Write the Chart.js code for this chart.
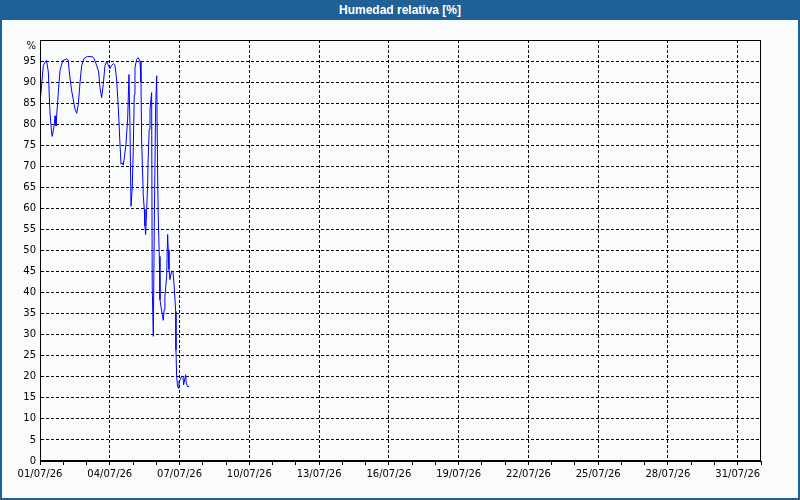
<!DOCTYPE html>
<html>
<head>
<meta charset="utf-8">
<title>Humedad relativa</title>
<script src="https://cdn.jsdelivr.net/npm/chart.js@4.4.0/dist/chart.umd.min.js"></script>
<style>
  body { margin: 0; background: #fff; }
  #marco { position: relative; width: 800px; height: 500px; background: #fafcfb; overflow: hidden; }
  #grafico { position: absolute; left: 0; top: 0; }
  #titulo {
    position: absolute; left: 0; top: 0; width: 800px; height: 20px;
    background: #1f6096; color: #fff; text-align: center;
    font: bold 12px "Liberation Sans", sans-serif; line-height: 20px;
  }
  #borde {
    position: absolute; left: 0; top: 0; width: 800px; height: 500px;
    box-sizing: border-box; border: 2px solid #1f6096; border-top: none;
    pointer-events: none;
  }
</style>
</head>
<body>
<div id="marco">
  <canvas id="grafico" width="800" height="500"></canvas>
  <div id="titulo">Humedad relativa [%]</div>
  <div id="borde"></div>
</div>
<script>
// Horas desde el 01/07/26 00:00
const horas = [
  0.7, 3.4, 6.2, 6.9, 8.6, 10.3, 12.1, 12.7, 14.8, 15.5, 16.5, 17.2, 18.9, 20.6,
  23.4, 27.5, 29.2, 30.2, 32.7, 36.1, 37.9, 39.5, 41.3, 43.0, 45.4, 48.8, 54.4,
  56.0, 58.5, 60.5, 61.9, 63.6, 65.3, 67.0, 68.8, 70.5, 72.2, 74.0, 75.6, 77.4,
  79.1, 80.8, 82.5, 83.6, 84.9, 85.9, 87.0, 88.7, 90.5, 91.8, 92.8, 93.9, 95.2,
  96.2, 97.3, 98.0, 99.7, 101.4, 103.2, 104.2, 104.9, 106.6, 107.6, 108.3, 109.0,
  110.1, 111.1, 111.7, 112.7, 113.5, 114.5, 115.2, 115.8, 116.9, 118.1, 119.3,
  120.4, 121.4, 122.0, 123.1, 123.8, 124.8, 126.2, 127.2, 128.2, 128.9, 130.7,
  131.7, 132.3, 133.1, 134.1, 135.8, 137.2, 138.5, 140.0, 140.3, 141.0, 142.0,
  142.7, 143.4, 144.7, 146.2, 147.5, 148.2, 150.3, 150.9, 152.3, 154.0
];

// Humedad relativa (%)
const humedad = [
  86.7, 93.9, 95.1, 95.0, 92.4, 82.9, 77.6, 77.1, 80.0, 82.0, 79.6, 82.0, 87.5, 92.7,
  95.1, 95.5, 95.2, 92.4, 87.9, 83.6, 82.6, 84.7, 89.9, 93.9, 95.6, 96.1, 96.0,
  95.5, 93.9, 92.4, 88.7, 86.3, 89.5, 93.9, 94.9, 94.0, 93.2, 94.0, 94.4, 94.0,
  90.5, 84.0, 75.5, 70.5, 70.8, 70.3, 72.0, 75.2, 81.5, 91.8, 80.0, 60.5, 65.0,
  73.6, 87.0, 93.4, 95.4, 95.8, 95.0, 90.0, 76.0, 63.0, 59.8, 55.8, 53.8,
  59.8, 66.1, 72.5, 78.8, 83.6, 86.0, 87.5, 41.5, 29.6, 60.0, 83.6,
  91.5, 67.7, 58.2, 48.6, 38.3, 36.7, 34.8, 33.4, 36.0, 39.1, 43.9,
  53.8, 50.2, 45.5, 43.1, 45.1, 45.0, 41.5, 35.5, 26.4, 20.1, 17.7,
  17.3, 18.9, 19.3, 20.1, 20.1, 18.1, 20.5, 18.5, 17.7, 17.7
];

// Marcas del eje X: una por día, etiqueta cada 3 días
const etiquetasX = ['01/07/26', '04/07/26', '07/07/26', '10/07/26', '13/07/26', '16/07/26',
  '19/07/26', '22/07/26', '25/07/26', '28/07/26', '31/07/26'];
const totalDias = 31;

// Eje Y: 0..100 de 5 en 5, arriba se pone "%"
const maxY = 100;
const pasoY = 5;

const fuente = { family: '"DejaVu Sans", sans-serif', size: 10 };
const transparente = 'rgba(0,0,0,0)';

// marco negro alrededor del área del gráfico
const marcoPlugin = {
  id: 'marcoGrafico',
  afterDraw(chart) {
    const { ctx, chartArea: a } = chart;
    ctx.save();
    ctx.strokeStyle = '#000';
    ctx.lineWidth = 1;
    ctx.strokeRect(Math.round(a.left) + 0.5, Math.round(a.top) + 0.5,
      Math.round(a.right - a.left) - 1, Math.round(a.bottom - a.top) - 1);
    ctx.restore();
  }
};

const ctx = document.getElementById('grafico').getContext('2d');
new Chart(ctx, {
  type: 'line',
  data: {
    datasets: [{
      data: horas.map((h, i) => ({ x: h, y: humedad[i] })),
      borderColor: '#0000ff',
      borderWidth: 1,
      pointRadius: 0,
      tension: 0,
      fill: false
    }]
  },
  options: {
    responsive: false,
    animation: false,
    layout: { padding: { top: 40, right: 39, left: 0, bottom: 0 } },
    plugins: {
      legend: { display: false },
      tooltip: { enabled: false }
    },
    scales: {
      x: {
        type: 'linear',
        min: 0,
        max: totalDias * 24,
        afterBuildTicks: axis => {
          axis.ticks = Array.from({ length: totalDias + 1 }, (_, d) => ({ value: d * 24 }));
        },
        afterFit: scale => { scale.height = 39; },
        ticks: {
          autoSkip: false,
          maxRotation: 0,
          padding: 3,
          color: '#000',
          font: fuente,
          callback: function(value) {
            const dia = Math.round(value / 24);
            return dia % 3 === 0 && etiquetasX[dia / 3] ? etiquetasX[dia / 3] : '';
          }
        },
        grid: {
          color: c => {
            const dia = Math.round(c.tick.value / 24);
            return dia % 3 === 0 && dia > 0 && dia < totalDias ? '#000' : transparente;
          },
          tickColor: '#000',
          tickLength: 4,
          lineWidth: 1
        },
        border: { display: true, color: '#000', dash: [3, 2] }
      },
      y: {
        min: 0,
        max: maxY,
        afterFit: scale => { scale.width = 40; },
        ticks: {
          stepSize: pasoY,
          autoSkip: false,
          padding: 4,
          color: '#000',
          font: fuente,
          // el "%" va un poco por debajo del borde superior
          callback: value => value === maxY ? ['', '%'] : value
        },
        grid: {
          color: c => (c.tick.value > 0 && c.tick.value < maxY ? '#000' : transparente),
          drawTicks: false,
          lineWidth: 1
        },
        border: { display: true, color: '#000', dash: [3, 2] }
      }
    }
  },
  plugins: [marcoPlugin]
});
</script>
</body>
</html>
